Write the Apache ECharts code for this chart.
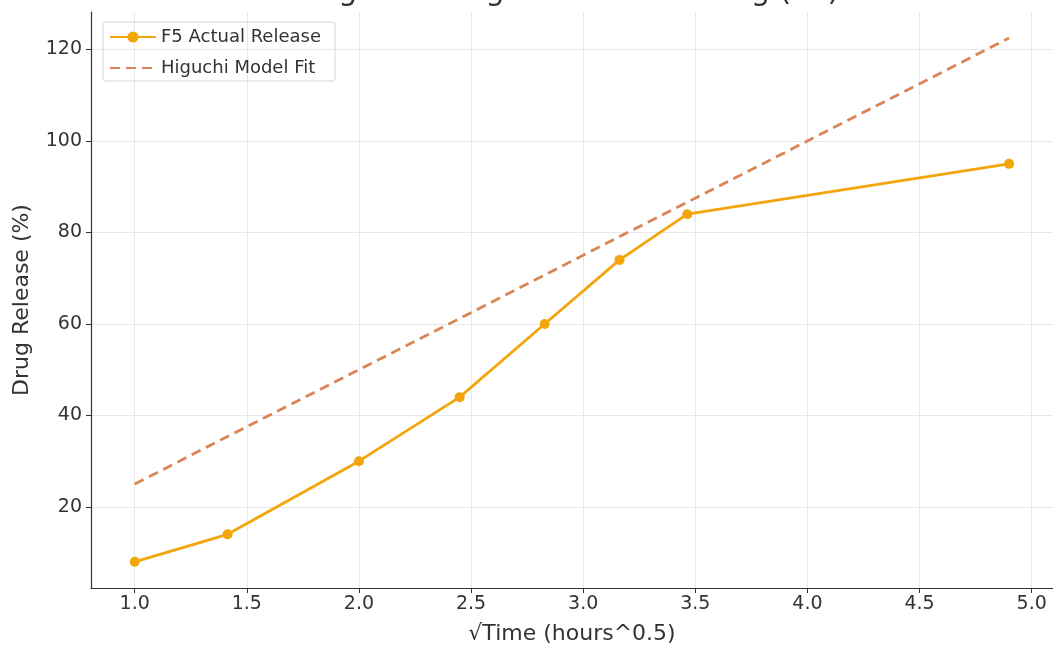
<!DOCTYPE html>
<html>
<head>
<meta charset="utf-8">
<script src="https://cdn.jsdelivr.net/npm/echarts@6/dist/echarts.min.js"></script>
<style>
  html, body { margin: 0; padding: 0; background: #fff; }
  #main { width: 1053px; height: 650px; }
</style>
</head>
<body>
<div id="main"></div>
<script>
var myChart = echarts.init(document.getElementById('main'));

var sqrtTime = [1.0, 1.414, 2.0, 2.449, 2.828, 3.162, 3.464, 4.899];
var actualRelease = [8, 14, 30, 44, 60, 74, 84, 95];
var higuchiFit = [25, 35.4, 50, 61.2, 70.7, 79.1, 86.6, 122.5];
var xTicks = [1.0, 1.5, 2.0, 2.5, 3.0, 3.5, 4.0, 4.5, 5.0];
var yTicks = [20, 40, 60, 80, 100, 120];

var font = 'DejaVu Sans';
var textColor = '#333';

var option = {
  animation: false,
  title: {
    text: 'Figure 5: Higuchi Model Fitting (F5)',
    left: 572,
    textAlign: 'center',
    top: -28,
    textStyle: { fontFamily: font, fontSize: 30, fontWeight: 'normal', color: textColor }
  },
  legend: {
    left: 103,
    top: 22,
    orient: 'vertical',
    itemWidth: 46,
    itemHeight: 14,
    itemGap: 13,
    padding: [6, 14, 4, 6],
    borderColor: '#d6d6d6',
    borderWidth: 1,
    borderRadius: 3,
    textStyle: { fontFamily: font, fontSize: 18, color: textColor },
    data: [
      { name: 'F5 Actual Release' },
      { name: 'Higuchi Model Fit', itemStyle: { opacity: 0 } }
    ]
  },
  grid: { left: 91, top: 12, width: 962, height: 577 },
  xAxis: {
    type: 'value',
    min: 0.805,
    max: 5.095,
    name: '√Time (hours^0.5)',
    nameLocation: 'middle',
    nameGap: 35,
    nameTextStyle: { fontFamily: font, fontSize: 22, color: textColor },
    axisLine: { lineStyle: { color: '#333', width: 1.2 } },
    axisTick: { customValues: xTicks, length: 5, lineStyle: { color: '#333' } },
    axisLabel: {
      customValues: xTicks,
      fontFamily: font, fontSize: 19, color: textColor, margin: 7,
      formatter: function (v) { return v.toFixed(1); }
    },
    splitLine: { show: true, lineStyle: { color: '#e8e8e8', width: 1 } }
  },
  yAxis: {
    type: 'value',
    min: 2.27,
    max: 128.2,
    name: 'Drug Release (%)',
    nameLocation: 'middle',
    nameGap: 58,
    nameTextStyle: { fontFamily: font, fontSize: 22, color: textColor },
    axisLine: { show: true, lineStyle: { color: '#333', width: 1.2 } },
    axisTick: { show: true, customValues: yTicks, length: 5, lineStyle: { color: '#333' } },
    axisLabel: { customValues: yTicks, fontFamily: font, fontSize: 19, color: textColor, margin: 9 },
    splitLine: { show: true, lineStyle: { color: '#e8e8e8', width: 1 } }
  },
  series: [
    {
      name: 'F5 Actual Release',
      type: 'line',
      data: sqrtTime.map(function (x, i) { return [x, actualRelease[i]]; }),
      symbol: 'circle',
      symbolSize: 10,
      color: '#f2a60c',
      lineStyle: { width: 2.8, color: '#f2a60c' },
      itemStyle: { color: '#f2a60c' },
      z: 3
    },
    {
      name: 'Higuchi Model Fit',
      type: 'line',
      data: sqrtTime.map(function (x, i) { return [x, higuchiFit[i]]; }),
      symbol: 'none',
      color: '#d98556',
      lineStyle: { width: 2.8, type: [10, 6], color: '#d98556' },
      z: 2
    }
  ]
};
myChart.setOption(option);
</script>
</body>
</html>
